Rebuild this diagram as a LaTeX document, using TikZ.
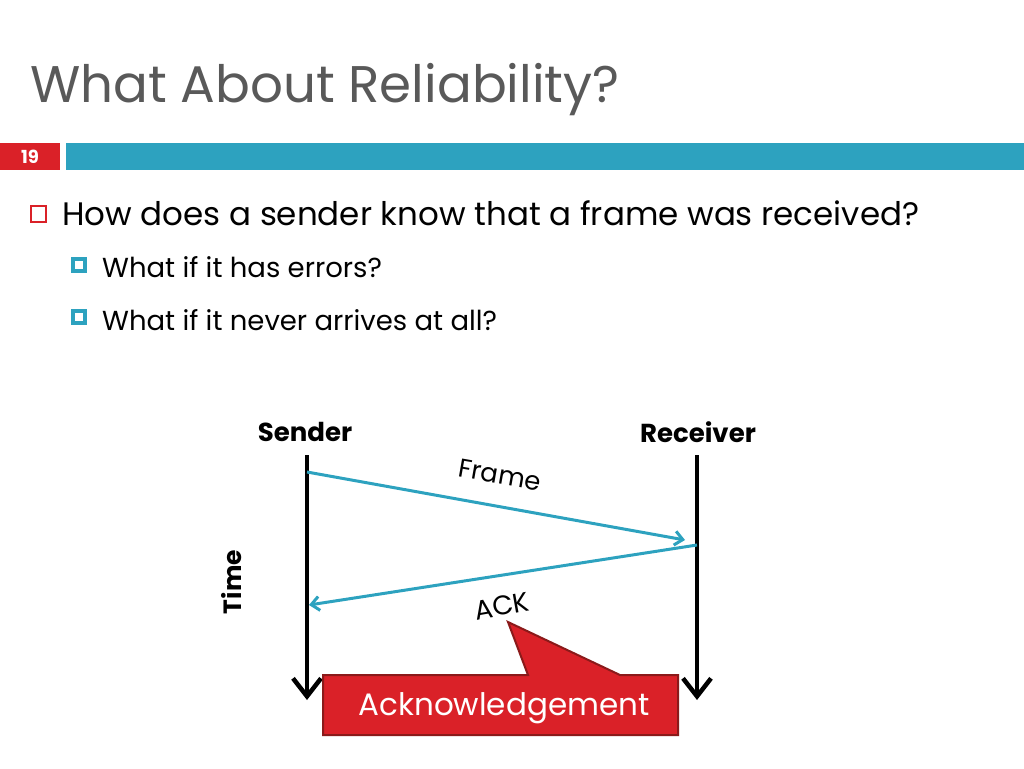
\documentclass[tikz,border=0pt]{standalone}
\usepackage{fontspec}
\setmainfont{Poppins}
\usetikzlibrary{arrows.meta}
\definecolor{ttl}{HTML}{595959}
\definecolor{cblue}{HTML}{2DA2BF}
\definecolor{cred}{HTML}{DA2128}
\definecolor{dred}{HTML}{8B1A1A}
\tikzset{fnt/.style={font=\fontsize{#1}{#1}\selectfont},
  bfnt/.style={font=\bfseries\fontsize{#1}{#1}\selectfont},
  msg/.style={cblue,line width=3pt,-{Straight Barb[length=8pt,width=14pt]}},
  tline/.style={black,line width=4.5pt,-{Straight Barb[length=18pt,width=28pt]}},
  lbl/.style={inner sep=0pt,anchor=base west}}
\begin{document}
\begin{tikzpicture}[x=1pt,y=-1pt]
\useasboundingbox (0,0) rectangle (1024,768);
\node[lbl,fnt=51.5,text=ttl] (title) at (30,102) {What About Reliability?};
\fill[cred] (0,143) rectangle (60,170);
\node[bfnt=18,text=white] (num) at (30,157) {19};
\fill[cblue] (66,143) rectangle (1024,170);
\draw[cred,line width=1.5pt] (31,206) rectangle (46,222);
\node[lbl,fnt=32.5] (b1) at (62,225) {How does a sender know that a frame was received?};
\draw[cblue,line width=4pt] (73,259) rectangle (85,271);
\node[lbl,fnt=27.5] (b2) at (102,277) {What if it has errors?};
\draw[cblue,line width=4pt] (73,311) rectangle (85,323);
\node[lbl,fnt=27.5] (b3) at (102,330) {What if it never arrives at all?};
\node[bfnt=26] (snd) at (305,432) {Sender};
\node[bfnt=26] (rcv) at (698,432) {Receiver};
\coordinate (s0) at (307,455); \coordinate (s1) at (307,700);
\coordinate (r0) at (697,455); \coordinate (r1) at (697,700);
\draw[tline] (s0) -- (s1);
\draw[tline] (r0) -- (r1);
\coordinate (f0) at (307,472); \coordinate (f1) at (685,540);
\coordinate (a0) at (697,545); \coordinate (a1) at (309,605);
\draw[msg] (f0) -- (f1);
\draw[msg] (a0) -- (a1);
\node[fnt=26,rotate=-10] (frm) at (500,475) {Frame};
\node[fnt=27,rotate=10] (ack) at (502,606) {ACK};
\node[bfnt=25,rotate=90] (time) at (232,582) {Time};
\draw[dred,fill=cred,line width=2pt,line join=miter]
  (323,675) -- (528,675) -- (508,622) -- (620,675) -- (678,675) -- (678,735) -- (323,735) -- cycle;
\node[fnt=31,text=white] (ackn) at (504,708) {Acknowledgement};
\end{tikzpicture}
\end{document}
